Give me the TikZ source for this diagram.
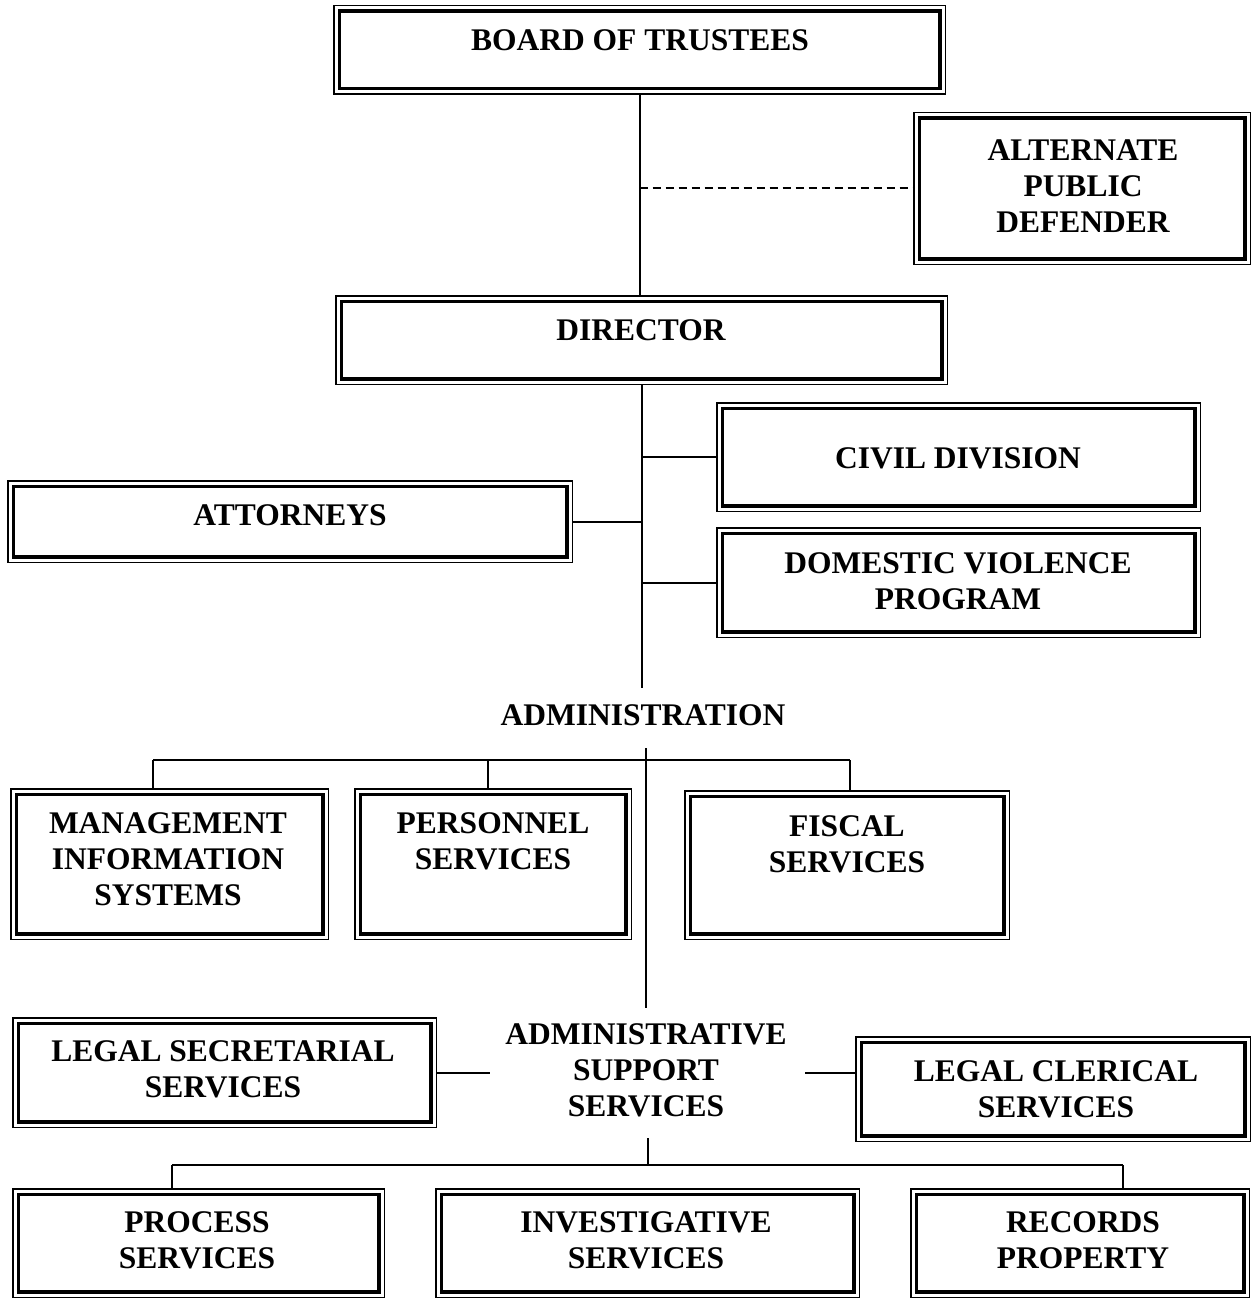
\documentclass[tikz,border=0pt]{standalone}
\usepackage{fontspec}
\setmainfont{Liberation Serif}
\usetikzlibrary{calc}
\tikzset{
  dbox/.style={draw, line width=3.5pt, inner sep=0pt, outer sep=6pt,
    append after command={\pgfextra{\draw[line width=1.5pt]
      ($(\tikzlastnode.south west)+(0.5pt,0.5pt)$) rectangle
      ($(\tikzlastnode.north east)+(-0.5pt,-0.5pt)$);}}},
  lbl/.style={align=center, inner sep=0pt, font=\fontsize{31.5}{36}\selectfont\bfseries},
  conn/.style={line width=2pt},
  dconn/.style={line width=2pt, dash pattern=on 8pt off 5pt}
}
\begin{document}
\begin{tikzpicture}[x=1pt,y=-1pt]
\useasboundingbox (0,0) rectangle (1252,1300);
% boxes (inner size = outer - 12.5)
\node[dbox, minimum width=600.5pt, minimum height=77.5pt] (board) at (639.5,50) {};
\node[dbox, minimum width=325.5pt, minimum height=140.5pt] (apd) at (1082,188.5) {};
\node[dbox, minimum width=600.5pt, minimum height=77.5pt] (director) at (641.5,340) {};
\node[dbox, minimum width=472.5pt, minimum height=97.5pt] (civil) at (958.5,457) {};
\node[dbox, minimum width=553.5pt, minimum height=70.5pt] (attorneys) at (290,521.5) {};
\node[dbox, minimum width=472.5pt, minimum height=98.5pt] (dv) at (958.5,582.5) {};
\node[dbox, minimum width=306.5pt, minimum height=139.5pt] (mis) at (169.5,864) {};
\node[dbox, minimum width=265.5pt, minimum height=139.5pt] (personnel) at (493,864) {};
\node[dbox, minimum width=313.5pt, minimum height=137.5pt] (fiscal) at (847,865) {};
\node[dbox, minimum width=412.5pt, minimum height=98.5pt] (legalsec) at (224.5,1072.5) {};
\node[dbox, minimum width=383.5pt, minimum height=93.5pt] (legalcler) at (1053,1089) {};
\node[dbox, minimum width=360.5pt, minimum height=97.5pt] (process) at (198.5,1243) {};
\node[dbox, minimum width=412.5pt, minimum height=97.5pt] (invest) at (647.5,1243) {};
\node[dbox, minimum width=327.5pt, minimum height=97.5pt] (records) at (1080,1243) {};
% texts
\node[lbl] (boardT) at (640,40) {BOARD OF TRUSTEES};
\node[lbl] (apdT) at (1083,186) {ALTERNATE\\PUBLIC\\DEFENDER};
\node[lbl] (directorT) at (641,330) {DIRECTOR};
\node[lbl] (civilT) at (958,458) {CIVIL DIVISION};
\node[lbl] (attorneysT) at (290,515) {ATTORNEYS};
\node[lbl] (dvT) at (958,581) {DOMESTIC VIOLENCE\\PROGRAM};
\node[lbl] (admin) at (643,715) {ADMINISTRATION};
\node[lbl] (misT) at (168,859) {MANAGEMENT\\INFORMATION\\SYSTEMS};
\node[lbl] (personnelT) at (493,841) {PERSONNEL\\SERVICES};
\node[lbl] (fiscalT) at (847,844) {FISCAL\\SERVICES};
\node[lbl] (legalsecT) at (223,1069) {LEGAL SECRETARIAL\\SERVICES};
\node[lbl] (ass) at (646,1070) {ADMINISTRATIVE\\SUPPORT\\SERVICES};
\node[lbl] (legalclerT) at (1056,1089) {LEGAL CLERICAL\\SERVICES};
\node[lbl] (processT) at (197,1240) {PROCESS\\SERVICES};
\node[lbl] (investT) at (646,1240) {INVESTIGATIVE\\SERVICES};
\node[lbl] (recordsT) at (1083,1240) {RECORDS\\PROPERTY};
% coordinates
\coordinate (trunkEnd) at (643,688);
\coordinate (admTop) at (646,748);
\coordinate (assTop) at (646,1008);
\coordinate (bus1) at (153,760);
\coordinate (bus2) at (488,760);
\coordinate (bus3) at (850,760);
\coordinate (lsEnd) at (490,1073);
\coordinate (lcEnd) at (805,1073);
\coordinate (assBot) at (648,1138);
\coordinate (bot1) at (172,1165);
\coordinate (botM) at (648,1165);
\coordinate (bot3) at (1123,1165);
% connectors
\draw[conn] (board.south) -- (board.south |- director.north);
\draw[dconn] (board.south |- apd.west) -- (apd.west);
\draw[conn] (director.south) -- (director.south |- trunkEnd);
\draw[conn] (director.south |- civil.west) -- (civil.west);
\draw[conn] (attorneys.east) -- (attorneys.east -| director.south);
\draw[conn] (director.south |- dv.west) -- (dv.west);
\draw[conn] (admTop) -- (assTop);
\draw[conn] (bus1) -- (bus3);
\draw[conn] (bus1) -- (bus1 |- mis.north);
\draw[conn] (bus2) -- (bus2 |- personnel.north);
\draw[conn] (bus3) -- (bus3 |- fiscal.north);
\draw[conn] (legalsec.east |- lsEnd) -- (lsEnd);
\draw[conn] (lcEnd) -- (lcEnd -| legalcler.west);
\draw[conn] (assBot) -- (botM);
\draw[conn] (bot1) -- (bot3);
\draw[conn] (bot1) -- (bot1 |- process.north);
\draw[conn] (bot3) -- (bot3 |- records.north);
\end{tikzpicture}
\end{document}
